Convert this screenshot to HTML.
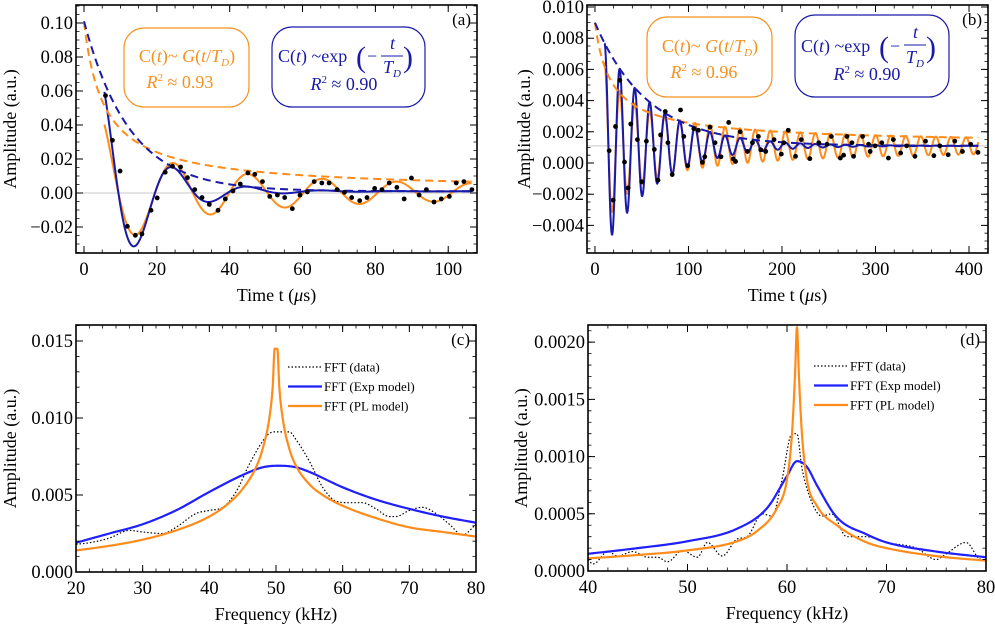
<!DOCTYPE html>
<html><head><meta charset="utf-8"><style>
html,body{margin:0;padding:0;background:#fff;}
svg{display:block;font-family:"Liberation Serif",serif;}
</style></head><body>
<svg id="fig" width="995" height="628" viewBox="0 0 995 628" xmlns="http://www.w3.org/2000/svg">
<g id="g-a"></g>
<g id="g-b"></g>
<g id="g-c"></g>
<g id="g-d"></g>

<g fill="#f5911e" font-size="18">
<rect x="124" y="28" width="125" height="79" rx="20" fill="none" stroke="#f5911e" stroke-width="1.2"/>
<text x="187" y="62" text-anchor="middle">C(<tspan font-style="italic">t</tspan>)~ <tspan font-style="italic">G</tspan>(<tspan font-style="italic">t</tspan>/<tspan font-style="italic">T</tspan><tspan font-style="italic" font-size="11" dy="4">D</tspan><tspan dy="-4">)</tspan></text>
<text x="180" y="88" text-anchor="middle"><tspan font-style="italic">R</tspan><tspan font-size="11" dy="-7">2</tspan><tspan dy="7"> ≈ 0.93</tspan></text>
</g>
<g fill="#1a1aa8" font-size="18">
<rect x="272" y="27" width="153" height="80" rx="20" fill="none" stroke="#1a1aa8" stroke-width="1.2"/>
<text x="278" y="62">C(<tspan font-style="italic">t</tspan>) ~exp</text>
<text x="356" y="67" font-size="30">(</text>
<text x="367" y="62">−</text>
<text x="390" y="49" font-style="italic">t</text>
<line x1="381" y1="56" x2="403" y2="56" stroke="#1a1aa8" stroke-width="1"/>
<text x="383" y="73" font-style="italic">T<tspan font-size="11" dy="4">D</tspan></text>
<text x="403" y="67" font-size="30">)</text>
<text x="344" y="90" text-anchor="middle"><tspan font-style="italic">R</tspan><tspan font-size="11" dy="-7">2</tspan><tspan dy="7"> ≈ 0.90</tspan></text>
</g>
<g fill="#f5911e" font-size="18">
<rect x="647" y="17" width="125" height="80" rx="20" fill="none" stroke="#f5911e" stroke-width="1.2"/>
<text x="710" y="52" text-anchor="middle">C(<tspan font-style="italic">t</tspan>)~ <tspan font-style="italic">G</tspan>(<tspan font-style="italic">t</tspan>/<tspan font-style="italic">T</tspan><tspan font-style="italic" font-size="11" dy="4">D</tspan><tspan dy="-4">)</tspan></text>
<text x="704" y="78" text-anchor="middle"><tspan font-style="italic">R</tspan><tspan font-size="11" dy="-7">2</tspan><tspan dy="7"> ≈ 0.96</tspan></text>
</g>
<g fill="#1a1aa8" font-size="18">
<rect x="795" y="15" width="154" height="82" rx="20" fill="none" stroke="#1a1aa8" stroke-width="1.2"/>
<text x="801" y="52">C(<tspan font-style="italic">t</tspan>) ~exp</text>
<text x="879" y="57" font-size="30">(</text>
<text x="890" y="52">−</text>
<text x="913" y="38" font-style="italic">t</text>
<line x1="904" y1="45" x2="926" y2="45" stroke="#1a1aa8" stroke-width="1"/>
<text x="906" y="63" font-style="italic">T<tspan font-size="11" dy="4">D</tspan></text>
<text x="926" y="57" font-size="30">)</text>
<text x="867" y="80" text-anchor="middle"><tspan font-style="italic">R</tspan><tspan font-size="11" dy="-7">2</tspan><tspan dy="7"> ≈ 0.90</tspan></text>
</g>
</svg>
<script>
// ---------- Panel (a) data ----------
const aTime = [5.9,7.8,9.9,11.9,14.1,15.9,18.4,20.1,22.3,24.3,26.5,28.4,30.4,32.4,34.4,36.8,38.8,40.9,42.9,45.0,46.9,49.0,51.0,53.1,55.1,57.2,59.3,61.3,63.2,65.3,67.3,69.5,71.5,73.5,75.7,77.7,79.8,81.8,83.8,85.9,87.9,89.9,92.0,94.0,96.1,98.1,100.3,102.2,104.3,106.5];
const aAmp = [0.0573,0.0310,0.0129,-0.0196,-0.0249,-0.0241,-0.0102,-0.0029,0.0122,0.0157,0.0153,0.0090,0.0020,-0.0027,-0.0067,-0.0102,-0.0035,0.0012,0.0053,0.0118,0.0110,0.0067,-0.0020,-0.0012,-0.0027,-0.0092,-0.0012,0.0006,0.0067,0.0059,0.0059,0.0020,0.0004,-0.0027,-0.0045,-0.0027,0.0027,0.0020,0.0059,0.0033,-0.0035,0.0088,-0.0012,0.0020,-0.0053,-0.0035,-0.0020,0.0059,0.0067,0.0020];
// exp model: [amplitude, T_D, period, phase t0, offset]
const aExpModel = [0.1, 12.5, 20.5, 4.25, 0.001];
// power-law model: [amplitude, tau, exponent, period, phase t0, offset, oscillation scale]
const aPLModel = [0.1, 5, 0.9, 20.4, 4.3, 0.0005, 0.85];
const aXTicks = [0,20,40,60,80,100];
const aYTicks = [-0.02,0,0.02,0.04,0.06,0.08,0.10];
const aYLabels = ["−0.02","0.00","0.02","0.04","0.06","0.08","0.10"];

// ---------- Panel (b) data ----------
const bTime = [15.2,19.5,22,26.6,31.6,35.5,38.3,45.4,50,55,63.5,67.4,70.2,75.2,78,82.6,91.5,95,99.3,105.7,110.6,114.9,117.4,123,128.4,134.8,143,147.9,150.4,155.3,163.1,168.4,174.8,177.3,182.6,191.5,199.3,202,206.7,214.5,220.6,229.8,239.4,248.2,252.8,262.4,265.9,269.5,274.8,276.6,286.2,292.6,294.3,299.6,306.7,313.8,319.1,326.9,333.3,342.2,353.5,362.4,368.8,377.7,384.8,393,401.8,409.6];
const bAmp = [0.00079,-0.00238,0.00234,0.0053,0.00006,-0.0016,0.0025,0.0015,-0.0012,0.0014,0.00087,-0.0011,0.0018,0.0033,0.0013,-0.00074,0.0034,0.0017,-0.00017,0.0022,0.0021,0.00004,0.0004,0.0023,0.0013,0.0004,0.0026,0.00026,0.0001,0.002,0.00074,0.0013,0.0017,0.00085,0.00074,0.0015,0.00057,0.0013,0.0021,0.00043,0.0015,0.00028,0.0013,0.0012,0.0017,0.00032,0.0005,0.0017,0.0013,0.00043,0.0017,0.0012,0.00074,0.0011,0.0013,0.00032,0.0015,0.00064,0.0011,0.00043,0.0014,0.00047,0.0011,0.00053,0.0014,0.00074,0.0012,0.00068];
const bExpModel = [0.0079, 56.5, 16.1, 10.35, 0.0011];
const bPLModel = [0.0079, 14, 0.8, 16.1, 10.35, 0.0011, 1.05];
const bXTicks = [0,100,200,300,400];
const bYTicks = [-0.004,-0.002,0,0.002,0.004,0.006,0.008,0.010];
const bYLabels = ["−0.004","−0.002","0.000","0.002","0.004","0.006","0.008","0.010"];

// ---------- Panel (c) data ----------
const cExpFreq = [20,25,30,35,40,45,48,50.5,53,55,60,65,70,75,80];
const cExpAmp = [0.0019,0.0025,0.0031,0.0040,0.0052,0.0063,0.0068,0.0069,0.0068,0.0065,0.0055,0.0047,0.0041,0.0036,0.0032];
const cPLFreq = [20,25,30,35,40,43,45,47,48,49,49.5,49.8,50.2,50.5,51,52,53,55,57,60,65,70,75,80];
const cPLAmp = [0.0014,0.0017,0.0021,0.0027,0.0036,0.0045,0.0054,0.0068,0.0080,0.0100,0.0120,0.0145,0.0145,0.0120,0.0100,0.0080,0.0069,0.0057,0.0050,0.0043,0.0035,0.0029,0.0026,0.0023];
const cDataFreq = [20,22,25,28,30,33,35,38,40,42,44,46,48,49,50,52,53,55,57,59,61,63,65,67,68,70,72,74,76,78,80];
const cDataAmp = [0.0018,0.0019,0.0022,0.0027,0.0026,0.0025,0.0029,0.0038,0.0040,0.0042,0.0052,0.0070,0.0085,0.0090,0.0091,0.0091,0.0086,0.0072,0.0055,0.0046,0.0045,0.0045,0.0041,0.0036,0.0036,0.0040,0.0042,0.0038,0.0031,0.0024,0.0031];
const cXTicks = [20,30,40,50,60,70,80];
const cYTicks = [0,0.005,0.010,0.015];
const cYLabels = ["0.000","0.005","0.010","0.015"];

// ---------- Panel (d) data ----------
const dExpFreq = [40,45,50,55,58,60,61,62,63,65,68,70,75,80];
const dExpAmp = [0.00015,0.0002,0.00026,0.00037,0.00055,0.00083,0.00096,0.00091,0.00075,0.00047,0.00032,0.00025,0.00017,0.00012];
const dPLFreq = [40,45,50,55,57,59,60,60.5,60.8,61,61.2,61.5,62,63,65,68,70,75,80];
const dPLAmp = [0.00011,0.00014,0.00018,0.00026,0.00035,0.00055,0.0008,0.0012,0.0017,0.00213,0.0017,0.0012,0.0008,0.00057,0.0004,0.00025,0.0002,0.00013,0.00009];
const dDataFreq = [40,40.5,42,43,44.5,46,47,48,49.5,51,52,53.5,55,56,57.5,58.5,59.5,60.5,61,61.5,62.5,63.5,64.5,66,68,70,73,75,76,78,79.5,80];
const dDataAmp = [0.0001,0.00006,0.00017,0.00013,0.00017,0.00012,0.00012,0.00008,0.00018,0.00012,0.00025,0.00013,0.00028,0.0003,0.0005,0.00048,0.0008,0.0012,0.0012,0.0009,0.0006,0.00048,0.0005,0.0003,0.0003,0.00025,0.0002,0.0001,0.00015,0.00025,0.0001,0.0001];
const dXTicks = [40,50,60,70,80];
const dYTicks = [0,0.0005,0.0010,0.0015,0.0020];
const dYLabels = ["0.0000","0.0005","0.0010","0.0015","0.0020"];

const NS = "http://www.w3.org/2000/svg";
function mk(parent, tag, attrs){
  const e = document.createElementNS(NS, tag);
  for (const k in attrs) e.setAttribute(k, attrs[k]);
  parent.appendChild(e);
  return e;
}
function makeAxes(g, px0, px1, py0, py1, x0, x1, y0, y1){
  return {
    sx: v => px0 + (v - x0) / (x1 - x0) * (px1 - px0),
    sy: v => py1 - (v - y0) / (y1 - y0) * (py1 - py0),
    px0, px1, py0, py1, x0, x1, y0, y1, g
  };
}
// monotone cubic interpolation (Fritsch-Carlson) for smooth curves
function monotone(xs, ys, n){
  const k = xs.length, d = [], m = [];
  for (let i = 0; i < k - 1; i++) d.push((ys[i+1] - ys[i]) / (xs[i+1] - xs[i]));
  m[0] = d[0]; m[k-1] = d[k-2];
  for (let i = 1; i < k - 1; i++) m[i] = (d[i-1] * d[i] <= 0) ? 0 : (d[i-1] + d[i]) / 2;
  for (let i = 0; i < k - 1; i++){
    if (d[i] === 0){ m[i] = 0; m[i+1] = 0; continue; }
    const a = m[i] / d[i], b = m[i+1] / d[i], s = a*a + b*b;
    if (s > 9){ const t = 3 / Math.sqrt(s); m[i] = t*a*d[i]; m[i+1] = t*b*d[i]; }
  }
  const ox = [], oy = [];
  for (let i = 0; i < k - 1; i++){
    const h = xs[i+1] - xs[i];
    for (let j = 0; j < n; j++){
      const t = j / n, t2 = t*t, t3 = t2*t;
      ox.push(xs[i] + t*h);
      oy.push((2*t3-3*t2+1)*ys[i] + (t3-2*t2+t)*h*m[i] + (-2*t3+3*t2)*ys[i+1] + (t3-t2)*h*m[i+1]);
    }
  }
  ox.push(xs[k-1]); oy.push(ys[k-1]);
  return [ox, oy];
}
function drawFrame(ax, xTicks, xLabels, xMinor, yTicks, yLabels, yMinor, xTitle, tag, ytx){
  const g = ax.g;
  const mt = mk(g, "g", {stroke:"#000","stroke-width":"0.8"});
  
  
  let s = "";
  for (let v = Math.ceil(ax.x0 / xMinor) * xMinor; v <= ax.x1; v += xMinor){
    const x = ax.sx(v);
    s += `M${x},${ax.py1}v-3.5M${x},${ax.py0}v3.5`;
  }
  for (let v = Math.ceil(ax.y0 / yMinor) * yMinor; v <= ax.y1 + 1e-12; v += yMinor){
    const y = ax.sy(v);
    s += `M${ax.px0},${y}h3.5M${ax.px1},${y}h-3.5`;
  }
  mk(mt, "path", {d:s, fill:"none"});
  const MT = mk(g, "g", {stroke:"#000","stroke-width":"1"});
  
  
  let S = "";
  xTicks.forEach(v => { const x = ax.sx(v); S += `M${x},${ax.py1}v-7M${x},${ax.py0}v7`; });
  yTicks.forEach(v => { const y = ax.sy(v); S += `M${ax.px0},${y}h7M${ax.px1},${y}h-7`; });
  mk(MT, "path", {d:S, fill:"none"});
  xTicks.forEach((v, i) => {
    const t = mk(g, "text", {x:ax.sx(v), y:ax.py1 + 22, "text-anchor":"middle", "font-size":"18.5"});
    
    
    t.textContent = xLabels[i];
  });
  yTicks.forEach((v, i) => {
    const t = mk(g, "text", {x:ax.px0 - 3, y:ax.sy(v) + 6, "text-anchor":"end", "font-size":"18.5"});
    
    
    t.textContent = yLabels[i];
  });
  const fr = mk(g, "rect", {x:ax.px0, y:ax.py0, width:ax.px1 - ax.px0, height:ax.py1 - ax.py0, fill:"none", stroke:"#000", "stroke-width":"1.6"});
  
  
  const xt = mk(g, "text", {x:(ax.px0 + ax.px1) / 2, y:ax.py1 + 48, "text-anchor":"middle", "font-size":"18"});
  
  
  xt.innerHTML = xTitle;
  const cy = (ax.py0 + ax.py1) / 2;
  const yt = mk(g, "text", {x:0, y:0, "text-anchor":"middle", "font-size":"18", transform:`translate(${ytx},${cy}) rotate(-90)`});
  
  
  yt.textContent = "Amplitude (a.u.)";
  const pl = mk(g, "text", {x:ax.px1 - 6, y:ax.py0 + 20, "text-anchor":"end", "font-size":"17"});
  
  
  pl.textContent = tag;
}
function polyline(ax, xs, ys, attrs, name){
  const pts = xs.map((x, i) => `${ax.sx(x).toFixed(2)},${ax.sy(ys[i]).toFixed(2)}`).join(" ");
  const p = mk(ax.g, "polyline", Object.assign({points:pts, fill:"none", "stroke-linejoin":"round"}, attrs));
  
  
  return p;
}
function expEnv(m, t){ return m[0] * Math.exp(-t / m[1]); }
function expOsc(m, t){ return m[4] + expEnv(m, t) * Math.cos(2 * Math.PI * (t - m[3]) / m[2]); }
function plEnv(m, t){ return m[0] * Math.pow(1 + t / m[1], -m[2]); }
function plOsc(m, t){ return m[5] + m[6] * plEnv(m, t) * Math.cos(2 * Math.PI * (t - m[4]) / m[3]); }
function timePanel(gid, box, xr, yr, time, amp, em, pm, xT, yT, yL, xMin, yMin, tag, tStart, tEnd, base, step, ytx){
  const g = document.getElementById(gid);
  const ax = makeAxes(g, box[0], box[1], box[2], box[3], xr[0], xr[1], yr[0], yr[1]);
  const cp = mk(document.getElementById("fig"), "clipPath", {id:"clip-" + gid});
  mk(cp, "rect", {x:box[0], y:box[2], width:box[1] - box[0], height:box[3] - box[2]});
  const inner = mk(g, "g", {"clip-path":`url(#clip-${gid})`});
  const ia = Object.assign({}, ax, {g:inner});
  const bl = mk(inner, "line", {x1:box[0], x2:box[1], y1:ax.sy(base), y2:ax.sy(base), stroke:"#c8c8c8", "stroke-width":"1"});
  
  
  const tsD = [], tsS = [];
  for (let t = 0; t <= tEnd; t += step) tsD.push(t);
  for (let t = tStart; t <= tEnd; t += step) tsS.push(t);
  polyline(ia, tsS, tsS.map(t => plOsc(pm, t)), {stroke:"#ff8c1a", "stroke-width":"2"}, "pl-fit-curve");
  polyline(ia, tsS, tsS.map(t => expOsc(em, t)), {stroke:"#1a1aa8", "stroke-width":"2"}, "exp-fit-curve");
  polyline(ia, tsD, tsD.map(t => pm[5] + plEnv(pm, t)), {stroke:"#ff8c1a", "stroke-width":"2", "stroke-dasharray":"8,5"}, "pl-envelope");
  polyline(ia, tsD, tsD.map(t => em[4] + expEnv(em, t)), {stroke:"#1a1aa8", "stroke-width":"2", "stroke-dasharray":"8,5"}, "exp-envelope");
  time.forEach((t, i) => {
    const c = mk(inner, "circle", {cx:ax.sx(t), cy:ax.sy(amp[i]), r:"2.4", fill:"#000"});
    
    
  });
  drawFrame(ax, xT, xT.map(String), xMin, yT, yL, yMin, 'Time t (<tspan font-style="italic">μ</tspan>s)', tag, ytx);
}
timePanel("g-a", [76,477,5,253], [-2.2,107.9], [-0.0353,0.1106], aTime, aAmp, aExpModel, aPLModel, aXTicks, aYTicks, aYLabels, 5, 0.005, "(a)", 5.6, 106.5, 0, 0.2, 16);
timePanel("g-b", [587,988,5,253], [-8.5,420.3], [-0.00577,0.01013], bTime, bAmp, bExpModel, bPLModel, bXTicks, bYTicks, bYLabels, 20, 0.0005, "(b)", 10, 410, 0.0011, 0.5, 530);

function fftPanel(gid, box, xr, yr, ef, ea, pf, pa, df, da, xT, yT, yL, xMin, yMin, tag, leg, ytx){
  const g = document.getElementById(gid);
  const ax = makeAxes(g, box[0], box[1], box[2], box[3], xr[0], xr[1], yr[0], yr[1]);
  const D = monotone(df, da, 8), E = monotone(ef, ea, 10), P = monotone(pf, pa, 10);
  polyline(ax, D[0], D[1], {stroke:"#000", "stroke-width":"1.2", "stroke-dasharray":"1.5,2"}, "fft-data-curve");
  polyline(ax, E[0], E[1], {stroke:"#1f1fff", "stroke-width":"2.2"}, "fft-exp-model-curve");
  polyline(ax, P[0], P[1], {stroke:"#ff8c1a", "stroke-width":"2.2"}, "fft-pl-model-curve");
  drawFrame(ax, xT, xT.map(String), xMin, yT, yL, yMin, "Frequency (kHz)", tag, ytx);
  const lg = mk(g, "g", {"font-size":"13"});
  
  
  const items = [["FFT (data)", "#000", "1.5,2", 1.2], ["FFT (Exp model)", "#1f1fff", "", 2.2], ["FFT (PL model)", "#ff8c1a", "", 2.2]];
  items.forEach((it, i) => {
    const y = leg[1] + i * 19.5;
    const ln = mk(lg, "line", {x1:leg[0], x2:leg[0] + 34, y1:y, y2:y, stroke:it[1], "stroke-width":it[3], "stroke-dasharray":it[2] || "none"});
    
    
    const t = mk(lg, "text", {x:leg[0] + 36, y:y + 4.5});
    
    
    t.textContent = it[0];
  });
}
fftPanel("g-c", [76,476,325,572], [20,80], [0,0.01604], cExpFreq, cExpAmp, cPLFreq, cPLAmp, cDataFreq, cDataAmp, cXTicks, cYTicks, cYLabels, 2, 0.001, "(c)", [288,367], 16);
fftPanel("g-d", [588,986,325,571], [40,80], [0,0.00215], dExpFreq, dExpAmp, dPLFreq, dPLAmp, dDataFreq, dDataAmp, dXTicks, dYTicks, dYLabels, 2, 0.0001, "(d)", [814,366], 527);
</script>
</body></html>
